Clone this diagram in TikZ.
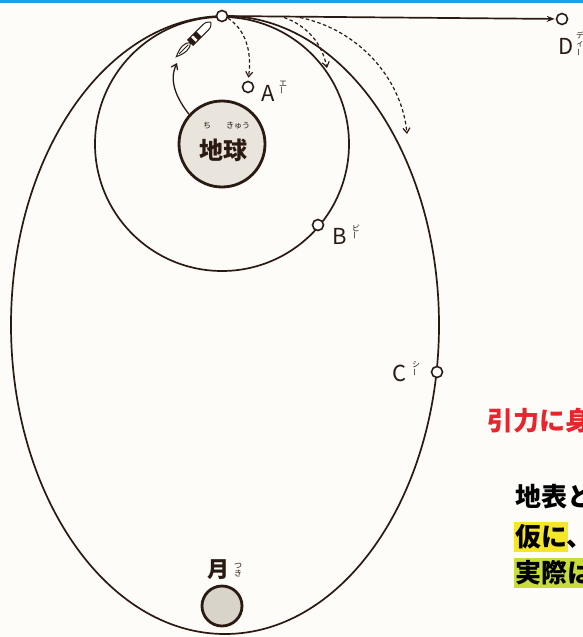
\documentclass[tikz,border=0pt]{standalone}
\usepackage{fontspec}
\usepackage{graphicx}
\setmainfont{Noto Sans CJK JP}
\usetikzlibrary{arrows.meta}

\definecolor{ink}{HTML}{2A1A12}
\definecolor{paper}{HTML}{FDFCF8}
\definecolor{rule}{HTML}{1EA0E1}
\definecolor{globe}{HTML}{E9E5DC}
\definecolor{luna}{HTML}{D9D4CA}
\definecolor{alert}{HTML}{E8242D}
\definecolor{mark1}{HTML}{F5E62A}
\definecolor{mark2}{HTML}{C8DC3C}

\tikzset{
  orbit/.style={draw=ink, line width=1.7pt},
  fall/.style={draw=ink, line width=1.2pt, dash pattern=on 3.5pt off 2.5pt,
    -{Straight Barb[length=5pt,width=7pt]}},
  spot/.style={circle, draw=ink, line width=1.6pt, fill=white,
    minimum size=11pt, inner sep=0pt},
  letter/.style={text=ink, font=\fontsize{22}{22}\selectfont},
  kana/.style={text=ink, font=\fontsize{8}{8.5}\selectfont, align=center,
    inner sep=0pt},
  caption/.style={anchor=west, inner sep=0pt,
    font=\fontsize{26}{26}\selectfont\bfseries}
}
\newcommand{\chouon}{\rotatebox{90}{ー}}

\begin{document}
\begin{tikzpicture}[x=1pt, y=-1pt]
  \fill[paper] (0,0) rectangle (583,637);
  \useasboundingbox (0,0) rectangle (583,637);
  \fill[rule] (0,0) rectangle (583,2.5);

  % earth, launch point and the orbits round it
  \node[circle, draw=ink, line width=2.8pt, fill=globe, minimum size=86pt]
    (earth) at (222,144) {};
  \node[text=ink, font=\fontsize{24}{24}\selectfont\bfseries]
    (chikyu) at (223,150) {地球};
  \node[kana] (chi) at (207,126) {ち};
  \node[kana] (kyu) at (238,126) {きゅう};

  \draw[orbit] (earth.center) circle (127);
  \draw[orbit] (225,325) ellipse [x radius=214, y radius=309];

  \node[circle, draw=ink, line width=2.8pt, fill=luna, minimum size=40pt]
    (moon) at (222,606) {};
  \node[text=ink, font=\fontsize{22}{22}\selectfont\bfseries]
    (tsuki) at (218,570) {月};
  \node[kana] (tsukikana) at (238,570) {つ\\き};

  \node[spot] (launch) at (222,16) {};
  \node[spot] (d) at (562,19) {};
  \node[spot] (a) at (248,87) {};
  \node[spot] (b) at (318,225) {};
  \node[spot] (c) at (437,372) {};

  \draw[orbit, -{Stealth[length=8pt,width=6pt]}, shorten >=1pt]
    (launch) -- (d);

  % falling paths
  \coordinate (kick2) at (284,17.5);
  \coordinate (kick3) at (300,17.5);
  \coordinate (fall2) at (327,68);
  \coordinate (fall3) at (407,134);
  \draw[fall, shorten >=3pt] (launch.-20) .. controls (246,30) and (252,52) .. (a.north);
  \draw[fall] (kick2) .. controls (308,26) and (322,44) .. (fall2);
  \draw[fall] (kick3) .. controls (360,30) and (402,80) .. (fall3);

  % rocket climbing from the ground
  \coordinate (rkt) at (177,63);
  \draw[draw=ink, line width=1.3pt, -{Straight Barb[length=5pt,width=7pt]}]
    (earth.138) .. controls (178,100) and (168,82) .. (rkt);
  \begin{scope}[shift={(194,39)}, rotate=45, line width=1pt, draw=ink]
    \draw[fill=white] (24,0) .. controls (20,3.8) .. (14,3.8) -- (-5,3.8)
      -- (-5,-3.8) -- (14,-3.8) .. controls (20,-3.8) .. (24,0);
    \fill[ink] (2,3.8) rectangle (7,-3.8);
    \fill[ink] (-5,3.8) rectangle (-1,-3.8);
    \draw[fill=white] (-5,0) .. controls (-9,4.8) and (-17,3.8) .. (-25,0)
      .. controls (-17,-3.8) and (-9,-4.8) .. (-5,0);
    \draw (-8,0) -- (-21,0);
  \end{scope}

  % labels of the spots
  \node[letter] (alabel) at (268,93) {A};
  \node[kana] (akana) at (283,88) {エ\\\chouon};
  \node[letter] (blabel) at (340,236) {B};
  \node[kana] (bkana) at (356,232) {ビ\\\chouon};
  \node[letter] (clabel) at (400,373) {C};
  \node[kana] (ckana) at (416,369) {シ\\\chouon};
  \node[letter] (dlabel) at (566,46) {D};
  \node[kana] (dkana) at (580,44) {デ\\ィ\\\chouon};

  % side notes
  \node[caption, text=alert] (gravity) at (487,421) {引力に身};
  \node[caption, text=black] (surface) at (515,497) {地表と};
  \fill[mark1] (514,522) rectangle (568,552);
  \fill[mark2] (514,558) rectangle (583,588);
  \node[caption, text=black] (suppose) at (515,537) {仮に、};
  \node[caption, text=black] (actual) at (515,573) {実際は};
\end{tikzpicture}
\end{document}
